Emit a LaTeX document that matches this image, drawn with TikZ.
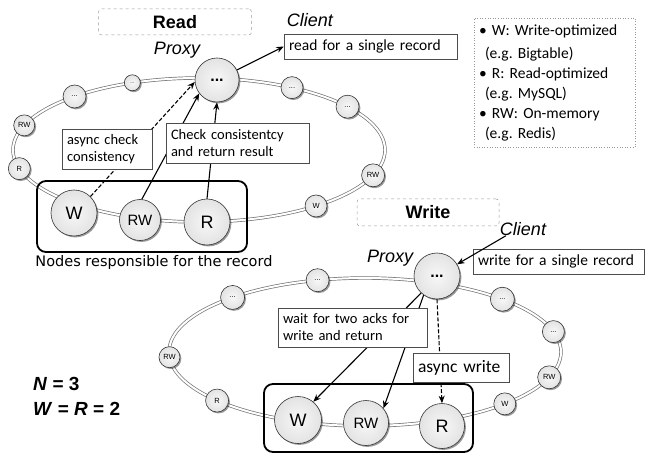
\documentclass[tikz,border=0pt]{standalone}
\usepackage{fontspec}
\setmainfont{Carlito}
\newfontfamily\arialf{Liberation Sans}
\newfontfamily\dejavuf{DejaVu Sans}
\usetikzlibrary{arrows.meta,shadows}
\frenchspacing
\begin{document}
\begin{tikzpicture}[x=1pt,y=-1pt,
  ring/.style={draw=black!55, double=white, double distance=2pt, line width=0.7pt},
  ball/.style={circle, draw=black!80, line width=0.6pt, inner sep=0pt,
     inner color=gray!6, outer color=gray!22,
     drop shadow={opacity=0.4, shadow xshift=1.4pt, shadow yshift=-1.4pt, fill=black}},
  bigball/.style={ball, minimum size=45pt, font=\arialf\fontsize{18}{18}\selectfont},
  smallball/.style={ball, minimum size=22pt, font=\arialf\fontsize{7.5}{7.5}\selectfont},
  tbox/.style={draw=black!70, fill=white, line width=0.5pt, inner xsep=5pt, inner ysep=0pt, align=left,
     font=\fontsize{14.5}{17}\selectfont, drop shadow={opacity=0.25, shadow xshift=1pt, shadow yshift=-1pt, fill=black}},
  arr/.style={-{Stealth[length=7.5pt,width=6pt]}, line width=1.1pt},
  darr/.style={arr, dash pattern=on 4pt off 2pt},
  grp/.style={draw=black, line width=1.8pt, rounded corners=9pt},
  ttl/.style={draw=gray!80, dashed, rounded corners=3pt, line width=0.5pt, font=\arialf\bfseries\fontsize{18}{18}\selectfont},
  ital/.style={font=\arialf\itshape\fontsize{18}{18}\selectfont, inner sep=0pt},
]
\useasboundingbox (0,0) rectangle (650,454);

% ---------------- READ ----------------
\coordinate (C1) at (199,150);
\draw[ring] (C1) ellipse [x radius=186pt, y radius=72pt];
\draw[grp] (37,181) rectangle (247,252);

\node[ttl, minimum width=153pt, minimum height=26pt] (rtitle) at (175,22) {Read};
\node[ital] (rclient) at (310,20) {Client};
\node[ital] (rproxy) at (177,50) {Proxy};

\node[bigball, minimum size=44pt, font=\arialf\bfseries\fontsize{16}{16}\selectfont] (rp) at (217,80) {...};
\node[smallball, minimum size=16pt, font=\arialf\fontsize{5}{5}\selectfont] (r1) at ([shift={(-111:186 and 72)}]C1) {...};
\node[smallball, minimum size=23pt] (r2) at ([shift={(-132:186 and 72)}]C1) {...};
\node[smallball, minimum size=21pt] (r3) at ([shift={(-160:186 and 72)}]C1) {RW};
\node[smallball, minimum size=22pt] (r4) at ([shift={(165:186 and 72)}]C1) {R};
\node[smallball, minimum size=22pt] (r5) at ([shift={(51:186 and 72)}]C1) {W};
\node[smallball, minimum size=23pt] (r6) at ([shift={(20.6:186 and 72)}]C1) {RW};
\node[smallball, minimum size=23pt] (r7) at ([shift={(-37:186 and 72)}]C1) {...};
\node[smallball, minimum size=22pt] (r8) at ([shift={(-60:186 and 72)}]C1) {...};
\node[bigball, minimum size=46pt] (rW) at (74,213) {W};
\node[bigball, minimum size=41pt, font=\arialf\fontsize{15}{15}\selectfont] (rRW) at (140,220) {RW};
\node[bigball, minimum size=46pt] (rR) at (207,222) {R};

\node[tbox, text width=163pt, minimum height=25pt, font=\fontsize{15.5}{17}\selectfont] (rbox) at (370.5,46.5) {read for a single record};

\draw[arr] (rp) -- (rbox.west);
\draw[darr] (rW.45) -- (rp.185);
\draw[arr] (rRW.85) -- (rp.217);
\draw[arr] (rR.north) -- (rp.south);

\node[tbox, text width=80pt, minimum height=40pt] (acbox) at (107,149) {async check\\consistency};
\node[tbox, text width=133pt, minimum height=40pt] (ccbox) at (237.5,143) {Check consistentcy\\and return result};

\node[font=\dejavuf\fontsize{14.5}{14.5}\selectfont, inner sep=0pt] (rlab) at (154,262) {Nodes responsible for the record};

% ---------------- LEGEND ----------------
\node[draw=gray!80, dotted, line width=0.6pt, text width=151pt, minimum height=129pt, inner xsep=5pt, align=left, font=\fontsize{15.5}{20}\selectfont] (legend) at (554.5,82.5)
 {• W: Write-optimized\\[3pt]
  \hspace*{6pt}(e.g. Bigtable)\\
  • R: Read-optimized\\
  \hspace*{6pt}(e.g. MySQL)\\
  • RW: On-memory\\
  \hspace*{6pt}(e.g. Redis)};

% ---------------- WRITE ----------------
\coordinate (C2) at (365,352);
\draw[ring] (C2) ellipse [x radius=196pt, y radius=74pt];
\draw[grp] (264,384) rectangle (473,452);

\node[ttl, minimum width=142pt, minimum height=27pt] (wtitle) at (428,212.5) {Write};
\node[ital] (wclient) at (523,229) {Client};
\node[ital] (wproxy) at (390,258) {Proxy};

\node[bigball, minimum size=46pt, font=\arialf\bfseries\fontsize{16}{16}\selectfont] (wp) at (437,276) {...};
\node[smallball, minimum size=23pt] (w1) at ([shift={(-104:196 and 74)}]C2) {...};
\node[smallball, minimum size=24pt] (w2) at ([shift={(-132.5:196 and 74)}]C2) {...};
\node[smallball, minimum size=21pt] (w3) at ([shift={(176:196 and 74)}]C2) {RW};
\node[smallball, minimum size=23pt] (w4) at ([shift={(139:196 and 74)}]C2) {R};
\node[smallball, minimum size=22pt] (w5) at ([shift={(44.5:196 and 74)}]C2) {W};
\node[smallball, minimum size=23pt] (w6) at ([shift={(20:196 and 74)}]C2) {RW};
\node[smallball, minimum size=22pt] (w7) at ([shift={(-16:196 and 74)}]C2) {...};
\node[smallball, minimum size=24pt] (w8) at ([shift={(-45.5:196 and 74)}]C2) {...};
\node[bigball, minimum size=47pt] (wW) at (298,420) {W};
\node[bigball, minimum size=45pt, font=\arialf\fontsize{15}{15}\selectfont] (wRW) at (366,423) {RW};
\node[bigball, minimum size=45pt] (wR) at (442,426) {R};

\node[tbox, text width=161pt, minimum height=25pt, font=\fontsize{15.5}{17}\selectfont] (wbox) at (558.5,261.5) {write for a single record};

\draw[arr] ([xshift=6pt]wclient.south west) -- (wp);
\draw[arr] (wp.227) -- (wW.50);
\draw[arr] (wp.235) -- (wRW.40);
\draw[darr] (wp.south) -- (wR.north);

\node[tbox, text width=139pt, minimum height=39pt] (waitbox) at (352.5,327.5) {wait for two acks for\\write and return};
\node[tbox, text width=86pt, minimum height=29pt, font=\fontsize{17.5}{18}\selectfont] (awbox) at (461,367.5) {async write};

\node[anchor=west, inner sep=0pt, font=\arialf\bfseries\fontsize{19}{19}\selectfont] (nlab) at (33,384) {\textit{N} = 3};
\node[anchor=west, inner sep=0pt, font=\arialf\bfseries\fontsize{19}{19}\selectfont] (wrlab) at (33,409) {\textit{W} = \textit{R} = 2};
\end{tikzpicture}
\end{document}
